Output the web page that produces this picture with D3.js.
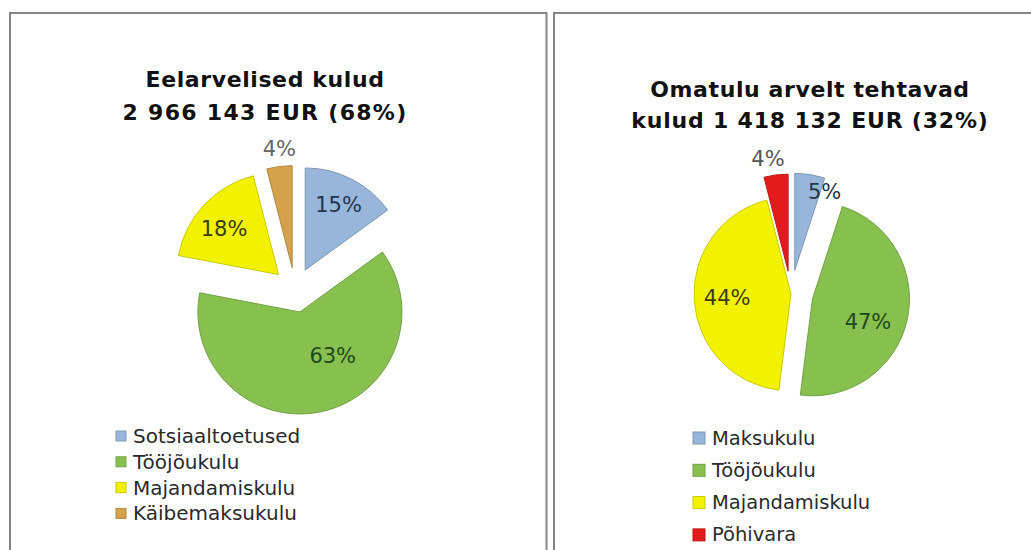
<!DOCTYPE html>
<html><head><meta charset="utf-8">
<script src="https://cdn.jsdelivr.net/npm/d3@7"></script>
<style>
html,body{margin:0;padding:0;background:#fff;}
svg{display:block;font-family:"DejaVu Sans",sans-serif;}
</style></head>
<body><svg id="chart" width="1031" height="550"></svg>
<script>
// ---- data ----
const leftTitle = ["Eelarvelised kulud", "2 966 143 EUR (68%)"];
const leftCategories = ["Sotsiaaltoetused", "Tööjõukulu", "Majandamiskulu", "Käibemaksukulu"];
const leftValues = [15, 63, 18, 4];

const rightTitle = ["Omatulu arvelt tehtavad", "kulud 1 418 132 EUR (32%)"];
const rightCategories = ["Maksukulu", "Tööjõukulu", "Majandamiskulu", "Põhivara"];
const rightValues = [5, 47, 44, 4];

// ---- styles ----
const colorByCat = {
  "Sotsiaaltoetused": "#98b6d9", "Maksukulu": "#98b6d9",
  "Tööjõukulu": "#88c050", "Majandamiskulu": "#f2f200",
  "Käibemaksukulu": "#d4a24c", "Põhivara": "#e21c1c"
};
const labelColorByCat = {
  "Sotsiaaltoetused": "#1f3550", "Maksukulu": "#1f3550",
  "Tööjõukulu": "#1d4a1a", "Majandamiskulu": "#3c3c08",
  "Käibemaksukulu": "#666", "Põhivara": "#555"
};

const panels = [
  { title: leftTitle, cats: leftCategories, vals: leftValues,
    cx: 295, cy: 290, r: 102, explode: [22.5, 22.5, 22.5, 22.5],
    labelR: [0.72, 0.54, 0.70, 1.17], labelNudge: [0, -24, -3, 1],
    titleX: 265, titleY: [87, 120], titleSpacing: [0.6, 1.3],
    legX: 116, legY: 436, legStep: 25.8, sw: 10, legFont: 20 },
  { title: rightTitle, cats: rightCategories, vals: rightValues,
    cx: 791, cy: 294, r: 97, explode: [24, 22, 0, 23],
    labelR: [0.86, 0.62, 0.66, 1.17], labelNudge: [12, 10, 0, -3],
    titleX: 810, titleY: [97, 128], titleSpacing: [0.6, 0.8],
    legX: 693, legY: 438, legStep: 32.3, sw: 12, legFont: 19.5 }
];

const svg = d3.select("#chart");

// panel borders
svg.append("rect").attr("x", 10).attr("y", 13).attr("width", 536.5).attr("height", 600)
  .attr("fill", "none").attr("stroke", "#858585").attr("stroke-width", 2);
svg.append("rect").attr("x", 554).attr("y", 13).attr("width", 600).attr("height", 600)
  .attr("fill", "none").attr("stroke", "#858585").attr("stroke-width", 2);

const toRad = Math.PI / 180;

panels.forEach(p => {
  const g = svg.append("g");
  // title
  p.title.forEach((t, i) => {
    g.append("text").attr("x", p.titleX).attr("y", p.titleY[i])
      .attr("text-anchor", "middle").attr("font-size", 22).attr("font-weight", "bold")
      .attr("letter-spacing", p.titleSpacing[i] + "px").attr("fill", "#111").text(t);
  });

  const pie = d3.pie().sort(null).value(d => d)(p.vals);
  const arc = d3.arc().innerRadius(0).outerRadius(p.r);

  pie.forEach((d, i) => {
    const mid = (d.startAngle + d.endAngle) / 2;
    const ox = Math.sin(mid) * p.explode[i], oy = -Math.cos(mid) * p.explode[i];
    const cat = p.cats[i];
    const base = d3.color(colorByCat[cat]);
    const sg = g.append("g").attr("transform", `translate(${p.cx + ox},${p.cy + oy})`);
    sg.append("path").attr("d", arc(d))
      .attr("fill", base.formatHex())
      .attr("stroke", base.darker(0.5).formatHex()).attr("stroke-width", 1)
      .attr("stroke-linejoin", "round");
    const la = mid + p.labelNudge[i] * toRad;
    const lr = p.labelR[i] * p.r;
    sg.append("text")
      .attr("x", Math.sin(la) * lr).attr("y", -Math.cos(la) * lr)
      .attr("text-anchor", "middle").attr("dominant-baseline", "central")
      .attr("font-size", 21).attr("fill", labelColorByCat[cat])
      .text(Math.round(d.value) + "%");
  });

  // legend
  p.cats.forEach((c, i) => {
    const y = p.legY + i * p.legStep;
    const col = d3.color(colorByCat[c]);
    g.append("rect").attr("x", p.legX).attr("y", y - p.sw / 2).attr("width", p.sw).attr("height", p.sw)
      .attr("fill", col.formatHex()).attr("stroke", col.darker(0.5).formatHex()).attr("stroke-width", 1);
    g.append("text").attr("x", p.legX + p.sw + 7).attr("y", y)
      .attr("dominant-baseline", "central").attr("font-size", p.legFont).attr("fill", "#2a2a2a").text(c);
  });
});
</script></body></html>
